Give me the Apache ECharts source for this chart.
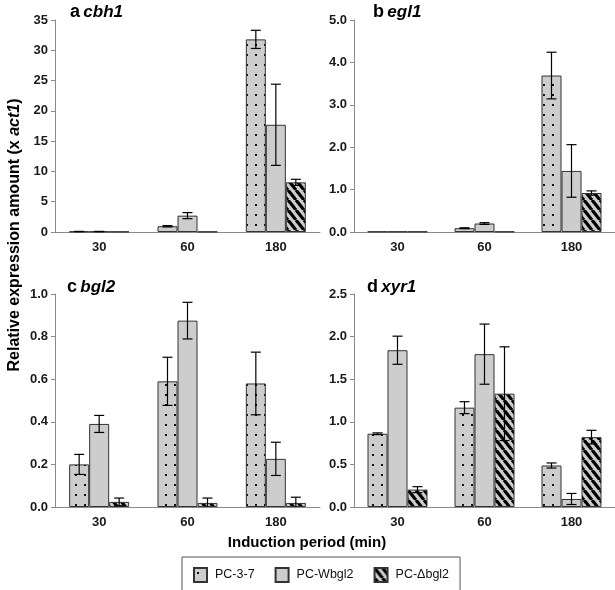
<!DOCTYPE html>
<html>
<head>
<meta charset="utf-8">
<script src="https://cdn.jsdelivr.net/npm/echarts@6/dist/echarts.min.js"></script>
<style>html,body{margin:0;padding:0;background:#fff}#c{width:615px;height:590px}</style>
</head>
<body>
<div id="c"></div>
<script>
// ---- data ----
var categories = ['30', '60', '180'];
var seriesNames = ['PC-3-7', 'PC-Wbgl2', 'PC-\u0394bgl2'];

var cbh1_pc37 = [0.08, 0.95, 31.8];   var cbh1_pc37_err = [0.02, 0.1, 1.5];
var cbh1_wbgl2 = [0.08, 2.7, 17.7];   var cbh1_wbgl2_err = [0.02, 0.5, 6.7];
var cbh1_dbgl2 = [0.05, 0.05, 8.2];   var cbh1_dbgl2_err = [0, 0, 0.5];

var egl1_pc37 = [0.01, 0.09, 3.69];   var egl1_pc37_err = [0, 0.01, 0.55];
var egl1_wbgl2 = [0.01, 0.2, 1.44];   var egl1_wbgl2_err = [0, 0.02, 0.62];
var egl1_dbgl2 = [0.01, 0.01, 0.92];  var egl1_dbgl2_err = [0, 0, 0.05];

var bgl2_pc37 = [0.20, 0.59, 0.58];   var bgl2_pc37_err = [0.047, 0.113, 0.147];
var bgl2_wbgl2 = [0.39, 0.875, 0.226]; var bgl2_wbgl2_err = [0.04, 0.086, 0.078];
var bgl2_dbgl2 = [0.024, 0.019, 0.019]; var bgl2_dbgl2_err = [0.018, 0.023, 0.027];

var xyr1_pc37 = [0.86, 1.166, 0.487];  var xyr1_pc37_err = [0.01, 0.07, 0.03];
var xyr1_wbgl2 = [1.84, 1.794, 0.094]; var xyr1_wbgl2_err = [0.165, 0.353, 0.065];
var xyr1_dbgl2 = [0.204, 1.33, 0.82];  var xyr1_dbgl2_err = [0.035, 0.55, 0.08];

var panelTitles = [['a', 'cbh1'], ['b', 'egl1'], ['c', 'bgl2'], ['d', 'xyr1']];
var yMax = [35, 5, 1, 2.5];
var yInterval = [5, 1, 0.2, 0.5];
var yDecimals = [0, 1, 1, 1];

var panels = [
  [[cbh1_pc37, cbh1_pc37_err], [cbh1_wbgl2, cbh1_wbgl2_err], [cbh1_dbgl2, cbh1_dbgl2_err]],
  [[egl1_pc37, egl1_pc37_err], [egl1_wbgl2, egl1_wbgl2_err], [egl1_dbgl2, egl1_dbgl2_err]],
  [[bgl2_pc37, bgl2_pc37_err], [bgl2_wbgl2, bgl2_wbgl2_err], [bgl2_dbgl2, bgl2_dbgl2_err]],
  [[xyr1_pc37, xyr1_pc37_err], [xyr1_wbgl2, xyr1_wbgl2_err], [xyr1_dbgl2, xyr1_dbgl2_err]]
];

// ---- patterns ----
var FILL = '#cdcdcd';
function dotPattern() {
  var c = document.createElement('canvas'); c.width = 9; c.height = 10;
  var g = c.getContext('2d');
  g.fillStyle = FILL; g.fillRect(0, 0, 9, 10);
  g.fillStyle = '#111'; g.fillRect(3, 4, 2, 2);
  return c;
}
function hatchPattern() {
  var w = 8, h = 10;
  var c = document.createElement('canvas'); c.width = w; c.height = h;
  var g = c.getContext('2d');
  g.fillStyle = FILL; g.fillRect(0, 0, w, h);
  g.strokeStyle = '#000'; g.lineWidth = 3.2;
  for (var k = -1; k <= 1; k++) {
    g.beginPath(); g.moveTo(k * w, 0); g.lineTo(k * w + w, h); g.stroke();
  }
  return c;
}
var fills = [
  { image: dotPattern(), repeat: 'repeat' },
  FILL,
  { image: hatchPattern(), repeat: 'repeat' }
];

// ---- layout ----
var grids = [
  { left: 55, top: 20, width: 265, height: 212 },
  { left: 354, top: 20, width: 261, height: 212 },
  { left: 55, top: 294, width: 265, height: 213 },
  { left: 354, top: 294, width: 261, height: 213 }
];
var titlePos = [[70, 12], [373, 12], [67, 287], [367, 287]];
var axisColor = '#8a8a8a';
var FONT = 'Liberation Sans, Arial, sans-serif';

var xAxes = [], yAxes = [], series = [], graphics = [];
for (var p = 0; p < 4; p++) {
  xAxes.push({
    type: 'category', gridIndex: p, data: categories,
    axisLine: { lineStyle: { color: axisColor, width: 1 } },
    axisTick: { show: false },
    axisLabel: { color: '#1a1a1a', fontWeight: 'bold', fontSize: 13, fontFamily: FONT, margin: 9 }
  });
  (function (dec) {
    yAxes.push({
      type: 'value', gridIndex: p, min: 0, max: yMax[p], interval: yInterval[p],
      axisLine: { show: true, lineStyle: { color: axisColor, width: 1 } },
      axisTick: { show: true, length: 4, lineStyle: { color: axisColor } },
      splitLine: { show: false },
      axisLabel: { color: '#1a1a1a', fontWeight: 'bold', fontSize: 13, fontFamily: FONT, margin: 7,
        formatter: function (v) { return v.toFixed(dec); } }
    });
  })(yDecimals[p]);

  for (var s = 0; s < 3; s++) {
    series.push({
      type: 'bar', name: seriesNames[s], xAxisIndex: p, yAxisIndex: p,
      data: panels[p][s][0], barWidth: 20, barGap: '0%',
      itemStyle: { color: fills[s], borderColor: '#333', borderWidth: 1 },
      emphasis: { disabled: true }, animation: false
    });
  }
  var errData = [];
  for (var s2 = 0; s2 < 3; s2++) {
    for (var i = 0; i < categories.length; i++) {
      errData.push([i, panels[p][s2][0][i], panels[p][s2][1][i], s2]);
    }
  }
  series.push({
    type: 'custom', xAxisIndex: p, yAxisIndex: p, data: errData, z: 10,
    encode: { x: 0, y: 1 }, silent: true, animation: false,
    renderItem: function (params, api) {
      var ci = api.value(0), v = api.value(1), e = api.value(2), si = api.value(3);
      if (!e) return;
      var off = (si - 1) * 20;
      var lo = Math.max(0, v - e);
      var top = api.coord([ci, v + e]), bot = api.coord([ci, lo]);
      var x = top[0] + off, hw = 5;
      var st = { stroke: '#000', lineWidth: 1.2 };
      var ch = [
        { type: 'line', shape: { x1: x, y1: top[1], x2: x, y2: bot[1] }, style: st },
        { type: 'line', shape: { x1: x - hw, y1: top[1], x2: x + hw, y2: top[1] }, style: st }
      ];
      if (v - e > 0) ch.push({ type: 'line', shape: { x1: x - hw, y1: bot[1], x2: x + hw, y2: bot[1] }, style: st });
      return { type: 'group', children: ch };
    }
  });

  graphics.push({
    type: 'text', left: titlePos[p][0], top: titlePos[p][1] - 9,
    style: {
      text: '{n|' + panelTitles[p][0] + '} {g|' + panelTitles[p][1] + '}',
      rich: {
        n: { fontSize: 18, fontWeight: 'bold', fontFamily: FONT, fill: '#000' },
        g: { fontSize: 17, fontWeight: 'bold', fontStyle: 'italic', fontFamily: FONT, fill: '#000' }
      }
    }
  });
}

graphics.push({
  type: 'text', x: 15, y: 235, rotation: Math.PI / 2,
  style: {
    text: '{a|Relative expression amount (x }{b|act1}{a|)}',
    align: 'center', verticalAlign: 'middle',
    rich: {
      a: { fontSize: 16, fontWeight: 'bold', fontFamily: FONT, fill: '#000' },
      b: { fontSize: 16, fontWeight: 'bold', fontStyle: 'italic', fontFamily: FONT, fill: '#000' }
    }
  }
});
graphics.push({
  type: 'text', x: 307, y: 543,
  style: { text: 'Induction period (min)', align: 'center', verticalAlign: 'middle',
    fontSize: 15, fontWeight: 'bold', fontFamily: FONT, fill: '#000' }
});

var chart = echarts.init(document.getElementById('c'), null, { renderer: 'canvas' });
chart.setOption({
  animation: false,
  grid: grids,
  xAxis: xAxes,
  yAxis: yAxes,
  series: series,
  graphic: graphics,
  legend: {
    data: seriesNames, left: 182, top: 557, orient: 'horizontal',
    itemWidth: 13, itemHeight: 14, itemGap: 20,
    padding: [10, 11, 8, 11],
    borderColor: '#555', borderWidth: 1, borderRadius: 0,
    selectedMode: false,
    icon: 'rect',
    textStyle: { fontSize: 12.5, fontFamily: FONT, color: '#111', padding: [0, 0, 0, 3] }
  }
});
</script>
</body>
</html>
